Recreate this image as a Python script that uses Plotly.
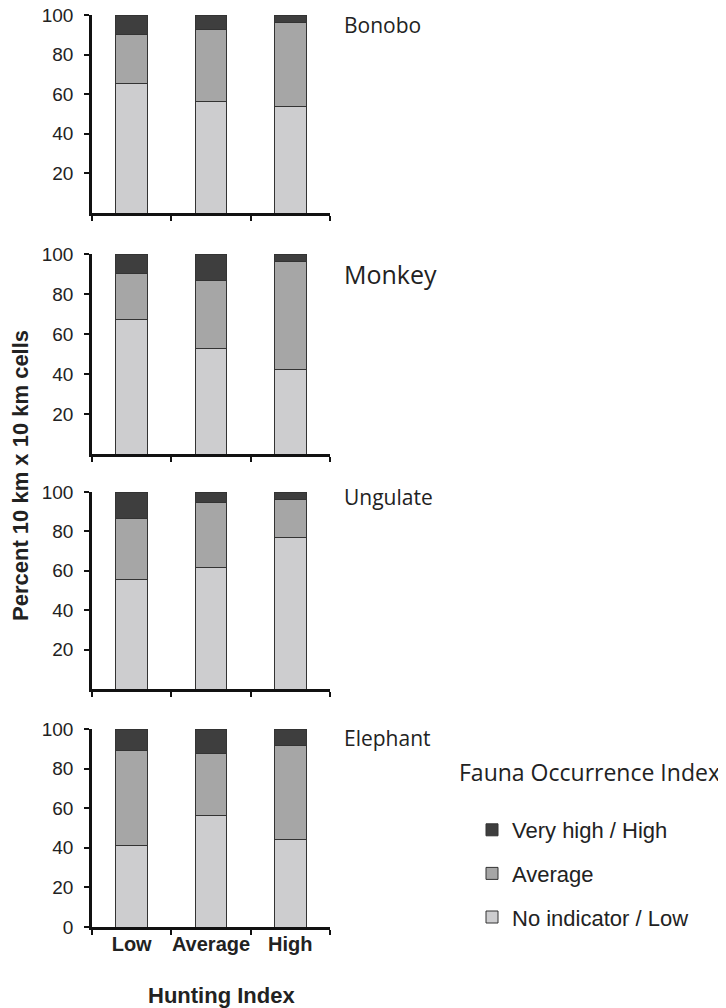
import plotly.graph_objects as go

# ---- data ----
categories = ["Low", "Average", "High"]
panels = ["Bonobo", "Monkey", "Ungulate", "Elephant"]
series_names = ["No indicator / Low", "Average", "Very high / High"]

bonobo_low = [65.4, 56.5, 53.6]
bonobo_avg = [24.7, 36.3, 42.4]
bonobo_high = [9.9, 7.2, 4.0]

monkey_low = [67.5, 52.6, 42.2]
monkey_avg = [22.6, 34.0, 54.0]
monkey_high = [9.9, 13.4, 3.8]

ungulate_low = [55.6, 61.7, 76.8]
ungulate_avg = [30.7, 33.2, 19.5]
ungulate_high = [13.7, 5.1, 3.7]

elephant_low = [41.0, 56.2, 44.2]
elephant_avg = [48.0, 31.2, 47.6]
elephant_high = [11.0, 12.6, 8.2]

panel_data = [
    (bonobo_low, bonobo_avg, bonobo_high),
    (monkey_low, monkey_avg, monkey_high),
    (ungulate_low, ungulate_avg, ungulate_high),
    (elephant_low, elephant_avg, elephant_high),
]

# ---- style ----
OFF = 8                      # page body margin
W, H = 726 - OFF, 1008 - OFF  # figure size so it fits in the window


def px_x(p):
    return (p - OFF) / W


def px_y(p):
    return (H - (p - OFF)) / H


colors = ["#cdcdcf", "#a6a6a6", "#3e3e3e"]
ranks = [3, 2, 1]
panel_px = [(15, 213), (254, 454), (492, 689), (729, 927)]  # top, bottom in window px
x_px = (92, 330)
name_sizes = [21, 25, 21, 21]
name_y_px = [25, 274, 497, 738]

fig = go.Figure()
layout_axes = {}
annotations = []

for i, (pname, vals) in enumerate(zip(panels, panel_data)):
    n = "" if i == 0 else str(i + 1)
    for j, (sname, v) in enumerate(zip(series_names, vals)):
        fig.add_trace(go.Bar(
            x=categories, y=v, name=sname,
            marker=dict(color=colors[j], line=dict(color="#333333", width=1)),
            width=0.4,
            xaxis="x" + n, yaxis="y" + n,
            showlegend=(i == 0),
            legendgroup=sname, legendrank=ranks[j],
        ))
    top, bot = panel_px[i]
    ydom = [px_y(bot), px_y(top)]
    last = (i == len(panels) - 1)
    layout_axes["xaxis" + n] = dict(
        domain=[px_x(x_px[0]), px_x(x_px[1])], anchor="y" + n,
        type="category", range=[-0.5, 2.5], categoryorder="array",
        categoryarray=categories, automargin=False, tickangle=0,
        showline=True, linewidth=2.5, linecolor="#111",
        ticks="outside", ticklen=5, tickwidth=2, tickcolor="#111",
        tickson="boundaries", showgrid=False, zeroline=False,
        showticklabels=last, ticklabelstandoff=-3,
        tickfont=dict(family="Liberation Sans", size=20, color="#222", weight="bold"),
    )
    tv = [0, 20, 40, 60, 80, 100] if last else [20, 40, 60, 80, 100]
    layout_axes["yaxis" + n] = dict(
        domain=ydom, anchor="x" + n, range=[0, 100], automargin=False,
        tickvals=tv, ticktext=[str(t) for t in tv],
        showline=True, linewidth=2.5, linecolor="#111",
        ticks="outside", ticklen=5, tickwidth=2, tickcolor="#111",
        showgrid=False, zeroline=False, ticklabelstandoff=7,
        ticklabeloverflow="allow",
        tickfont=dict(family="Liberation Sans", size=19, color="#222"),
    )
    annotations.append(dict(
        text=pname, x=px_x(342), y=px_y(name_y_px[i]), xref="paper", yref="paper",
        xanchor="left", yanchor="middle", showarrow=False,
        font=dict(family="Open Sans", size=name_sizes[i], color="#222"),
    ))

annotations.append(dict(
    text="<b>Percent 10 km x 10 km cells</b>", x=px_x(20), y=px_y(476),
    xref="paper", yref="paper", textangle=-90, showarrow=False,
    xanchor="center", yanchor="middle",
    font=dict(family="Liberation Sans", size=22, color="#222"),
))
annotations.append(dict(
    text="<b>Hunting Index</b>", x=px_x(221), y=px_y(995),
    xref="paper", yref="paper", showarrow=False,
    xanchor="center", yanchor="middle",
    font=dict(family="Liberation Sans", size=22, color="#222"),
))
annotations.append(dict(
    text="Fauna Occurrence Index", x=px_x(457), y=px_y(772),
    xref="paper", yref="paper", showarrow=False,
    xanchor="left", yanchor="middle",
    font=dict(family="Open Sans", size=23, color="#222"),
))

fig.update_layout(
    width=W, height=H,
    margin=dict(l=0, r=0, t=0, b=0),
    paper_bgcolor="white", plot_bgcolor="white",
    barmode="stack",
    showlegend=True,
    legend=dict(
        x=px_x(472), y=px_y(809), xanchor="left", yanchor="top",
        traceorder="grouped", tracegroupgap=12,
        font=dict(family="Liberation Sans", size=22, color="#222"),
        bgcolor="rgba(0,0,0,0)", borderwidth=0,
    ),
    annotations=annotations,
    **layout_axes,
)

fig.write_html("out.html")
